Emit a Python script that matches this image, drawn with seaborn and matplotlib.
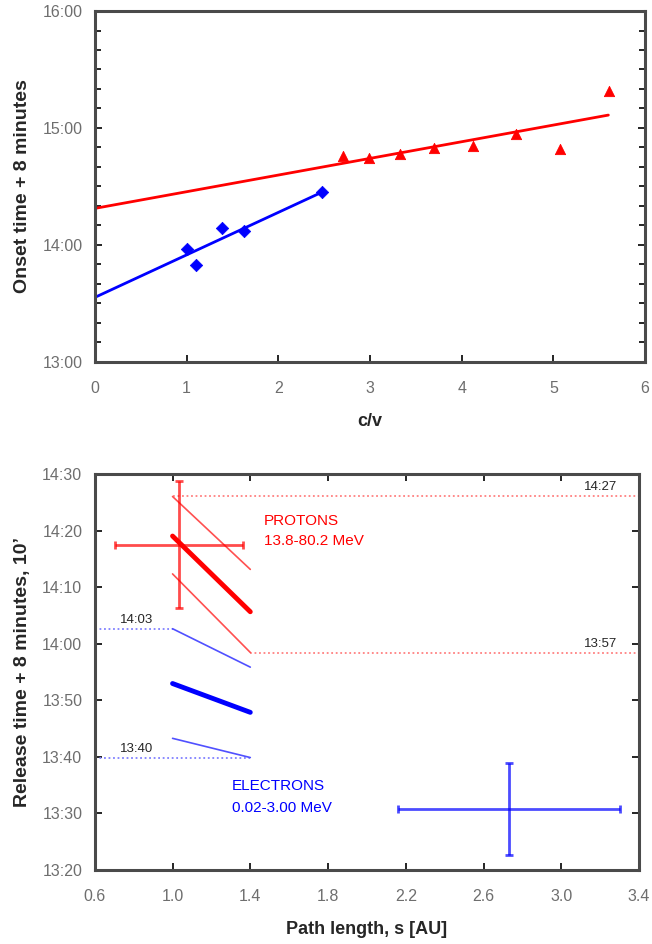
import numpy as np
import pandas as pd
import seaborn as sns
import matplotlib.pyplot as plt
from matplotlib.ticker import MultipleLocator

# Top panel: onset time (hours UT) vs c/v
e_cv = [1.00, 1.10, 1.39, 1.62, 2.48]
e_onset = [13.961, 13.825, 14.144, 14.121, 14.452]
p_cv = [2.70, 2.99, 3.33, 3.70, 4.12, 4.59, 5.07, 5.61]
p_onset = [14.760, 14.745, 14.774, 14.825, 14.845, 14.945, 14.822, 15.313]
e_fit_x = [0.0, 2.48]
e_fit_y = [13.551, 14.452]
p_fit_x = [0.0, 5.60]
p_fit_y = [14.312, 15.110]
top_yticks = [13, 14, 15, 16]
top_ylabels = ["13:00", "14:00", "15:00", "16:00"]

# Bottom panel: release time in minutes after 13:00 vs path length
path_s = [1.0, 1.4]
p_mid = [79.1, 65.7]
p_hi = [86.1, 73.2]
p_lo = [72.4, 58.5]
e_mid = [53.0, 47.9]
e_hi = [62.7, 55.9]
e_lo = [43.3, 39.9]
p_ref_hi_x, p_ref_hi_y = [1.0, 3.4], [86.2, 86.2]
p_ref_lo_x, p_ref_lo_y = [1.4, 3.4], [58.4, 58.4]
e_ref_hi_x, e_ref_hi_y = [0.6, 1.0], [62.7, 62.7]
e_ref_lo_x, e_ref_lo_y = [0.6, 1.4], [39.9, 39.9]
p_err = dict(s=1.035, t=77.6, serr=0.33, terr=11.3)
e_err = dict(s=2.73, t=30.8, serr=0.57, terr=8.1)
bot_xticks = [0.6, 1.0, 1.4, 1.8, 2.2, 2.6, 3.0, 3.4]
bot_yticks = [20, 30, 40, 50, 60, 70, 80, 90]
bot_ylabels = ["13:20", "13:30", "13:40", "13:50", "14:00", "14:10", "14:20", "14:30"]

RED = "#ff0000"
BLUE = "#0000ff"
SPINE = "#4a4a4a"
TICKC = "#6e6e6e"

sns.set_style("ticks")
plt.rcParams["font.family"] = ["Liberation Sans", "DejaVu Sans"]

fig = plt.figure(figsize=(6.52, 9.44), dpi=100)
ax1 = fig.add_axes([0.1457, 0.6168, 0.8436, 0.3715])
ax2 = fig.add_axes([0.1454, 0.0784, 0.8347, 0.4190])


def style_axes(ax):
    for sp in ax.spines.values():
        sp.set_linewidth(2.2)
        sp.set_color(SPINE)
    ax.tick_params(which="both", direction="in", color="black", width=1.2,
                   labelcolor=TICKC, labelsize=11.5)
    ax.tick_params(axis="x", pad=14)
    ax.tick_params(axis="y", pad=9)
    ax.tick_params(which="major", length=5)
    ax.tick_params(which="minor", length=4)


# ---- top panel
sns.lineplot(x=e_fit_x, y=e_fit_y, color=BLUE, lw=2, ax=ax1)
sns.lineplot(x=p_fit_x, y=p_fit_y, color=RED, lw=2, ax=ax1)
sns.scatterplot(x=e_cv, y=e_onset, color=BLUE, marker="D", s=40, edgecolor=BLUE, ax=ax1, zorder=3)
sns.scatterplot(x=p_cv, y=p_onset, color=RED, marker="^", s=55, edgecolor=RED, ax=ax1, zorder=3)
ax1.set_xlim(0, 6)
ax1.set_ylim(13, 16)
ax1.set_yticks(top_yticks)
ax1.set_yticklabels(top_ylabels)
ax1.yaxis.set_minor_locator(MultipleLocator(1 / 6))
ax1.xaxis.set_major_locator(MultipleLocator(1))
ax1.tick_params(right=True, which="both")
style_axes(ax1)
ax1.set_xlabel("c/v", fontsize=13, fontweight="bold", labelpad=12)
ax1.set_ylabel("Onset time + 8 minutes", fontsize=14, fontweight="bold", labelpad=8)

# ---- bottom panel
dot = dict(ls=(0, (1, 1.5)), lw=1.3)
sns.lineplot(x=p_ref_hi_x, y=p_ref_hi_y, color="#ff8080", ax=ax2, **dot)
sns.lineplot(x=p_ref_lo_x, y=p_ref_lo_y, color="#ff8080", ax=ax2, **dot)
sns.lineplot(x=e_ref_hi_x, y=e_ref_hi_y, color="#8080ff", ax=ax2, **dot)
sns.lineplot(x=e_ref_lo_x, y=e_ref_lo_y, color="#8080ff", ax=ax2, **dot)

sns.lineplot(x=path_s, y=p_hi, color="#ff5050", lw=1.2, ax=ax2)
sns.lineplot(x=path_s, y=p_lo, color="#ff5050", lw=1.2, ax=ax2)
sns.lineplot(x=path_s, y=p_mid, color=RED, lw=3.5, ax=ax2)
sns.lineplot(x=path_s, y=e_hi, color="#5050ff", lw=1.2, ax=ax2)
sns.lineplot(x=path_s, y=e_lo, color="#5050ff", lw=1.2, ax=ax2)
sns.lineplot(x=path_s, y=e_mid, color=BLUE, lw=3.5, ax=ax2)

for e, c in [(p_err, RED), (e_err, BLUE)]:
    ax2.errorbar(e["s"], e["t"], xerr=e["serr"], yerr=e["terr"], color=c, alpha=0.7,
                 lw=2, capsize=3, capthick=2, zorder=4)

ax2.text(1.47, 81.8, "PROTONS", color=RED, fontsize=11, va="center")
ax2.text(1.47, 78.2, "13.8-80.2 MeV", color=RED, fontsize=11, va="center")
ax2.text(1.305, 34.9, "ELECTRONS", color=BLUE, fontsize=11, va="center")
ax2.text(1.305, 30.9, "0.02-3.00 MeV", color=BLUE, fontsize=11, va="center")
ax2.text(0.815, 63.1, "14:03", fontsize=9.5, ha="center", va="bottom")
ax2.text(0.815, 40.3, "13:40", fontsize=9.5, ha="center", va="bottom")
ax2.text(3.29, 86.7, "14:27", fontsize=9.5, ha="right", va="bottom")
ax2.text(3.29, 58.9, "13:57", fontsize=9.5, ha="right", va="bottom")

ax2.set_xlim(0.6, 3.4)
ax2.set_ylim(20, 90)
ax2.set_xticks(bot_xticks)
ax2.set_xticklabels([f"{v:.1f}" for v in bot_xticks])
ax2.set_yticks(bot_yticks)
ax2.set_yticklabels(bot_ylabels)
ax2.tick_params(top=True, right=True)
style_axes(ax2)
ax2.set_xlabel("Path length, s [AU]", fontsize=13, fontweight="bold", labelpad=12)
ax2.set_ylabel("Release time + 8 minutes, 10\u2019", fontsize=14, fontweight="bold", labelpad=8)

fig.savefig("out.png", dpi=100)
